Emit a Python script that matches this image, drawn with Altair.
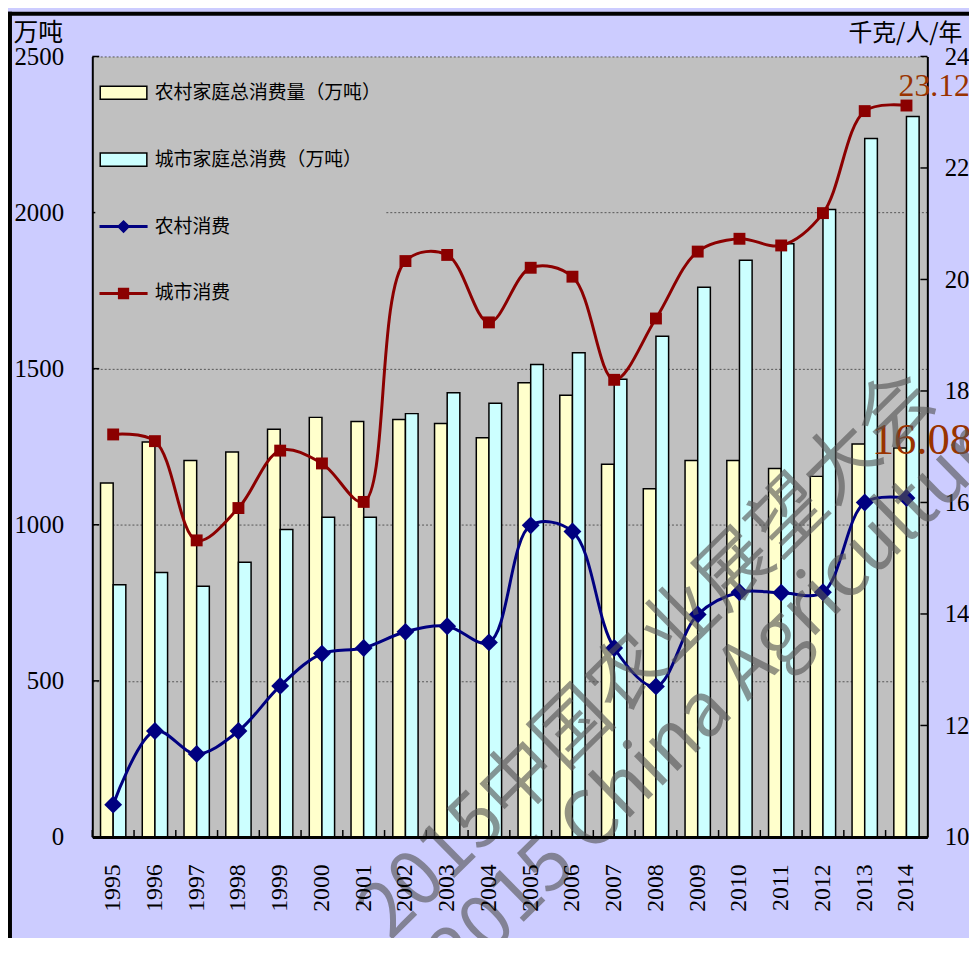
import altair as alt
import pandas as pd

# ---------------- data ----------------
years = [str(y) for y in range(1995, 2015)]
rural_total = [1134, 1265, 1206, 1233, 1306, 1344, 1331, 1337, 1324, 1279,
               1455, 1415, 1194, 1115, 1206, 1206, 1180, 1155, 1259, 1246]
urban_total = [808, 847, 803, 880, 985, 1024, 1024, 1356, 1423, 1389,
               1513, 1551, 1466, 1604, 1761, 1847, 1900, 2010, 2237, 2308]
rural_pc = [10.58, 11.90, 11.49, 11.90, 12.71, 13.29, 13.39, 13.68, 13.78, 13.49,
            15.59, 15.48, 13.39, 12.70, 13.99, 14.39, 14.38, 14.39, 16.00, 16.08]
urban_pc = [17.22, 17.10, 15.32, 15.90, 16.93, 16.70, 16.01, 20.33, 20.44, 19.23,
            20.21, 20.05, 18.20, 19.30, 20.50, 20.73, 20.61, 21.19, 23.02, 23.12]

bar_series = ["农村家庭总消费量（万吨）", "城市家庭总消费（万吨）"]
line_series = ["农村消费", "城市消费"]
left_ticks = [0, 500, 1000, 1500, 2000, 2500]
right_ticks = [10, 12, 14, 16, 18, 20, 22, 24]
end_labels = ["16.08", "23.12"]
watermark = ["2015中国农业展望大会", "2015 China Agricultural Outlook Conference"]

# ---------------- styles ----------------
YELLOW, CYAN, NAVY, DARKRED = "#FFFFCC", "#CCFFFF", "#000080", "#8B0000"
LABEL_COLOR = "#993300"
SERIF = "Liberation Serif"
CJK = "Noto Sans CJK SC"
RECT = "M-1,-0.28H1V0.28H-1Z"
LINE_DIAMOND = "M-1,-0.03H1V0.03H-1Z M0,-0.24L0.24,0L0,0.24L-0.24,0Z"
LINE_SQUARE = "M-1,-0.03H1V0.03H-1Z M-0.21,-0.21H0.21V0.21H-0.21Z"

bars_df = pd.DataFrame({
    "year": years * 2,
    "series": [bar_series[0]] * len(years) + [bar_series[1]] * len(years),
    "value": rural_total + urban_total,
})
rural_df = pd.DataFrame({"year": years, "value": rural_pc})
urban_df = pd.DataFrame({"year": years, "value": urban_pc})
lt_df = pd.DataFrame({"v": left_ticks})
rt_df = pd.DataFrame({"v": right_ticks})
yr_df = pd.DataFrame({"year": years})
legend_labels = bar_series + line_series
legend_df = pd.DataFrame({"label": legend_labels})
one = pd.DataFrame({"k": [0]})

xscale = alt.Scale(paddingInner=0, paddingOuter=0)
x_axis = alt.Axis(
    title=None, labelAngle=270, labelAlign="right", labelBaseline="middle",
    labelPadding=27, ticks=False, domainColor="black", domainWidth=3, zindex=1,
    labelFont=SERIF, labelFontSize=24, labelColor="black")
X = alt.X("year:O", scale=xscale, axis=x_axis)

lscale = alt.Scale(domain=[0, 2500], nice=False, zero=True)
rscale = alt.Scale(domain=[10, 24], nice=False, zero=False)

# ---------------- left (bars) ----------------
bars = alt.Chart(bars_df).mark_bar(stroke="black", strokeWidth=1.5).encode(
    x=X,
    xOffset=alt.XOffset("series:N", scale=alt.Scale(domain=bar_series, paddingOuter=0.65, paddingInner=0)),
    y=alt.Y("value:Q", scale=lscale, axis=alt.Axis(
        orient="left", values=left_ticks, format="d", grid=True, gridDash=[2, 2],
        gridColor="#555555", gridWidth=1, ticks=False, domainColor="black", domainWidth=2,
        labelFont=SERIF, labelFontSize=25, labelColor="black", labelPadding=29,
        title="万吨", titleAngle=0, titleX=-80, titleY=-24, titleAlign="left",
        titleBaseline="middle", titleFont=CJK, titleFontSize=25,
        titleFontWeight="normal", titleColor="black")),
    fill=alt.Fill("series:N", scale=alt.Scale(domain=bar_series, range=[YELLOW, CYAN]), legend=None),
)
lticks = alt.Chart(lt_df).mark_rule(color="black", strokeWidth=1.5).encode(
    y=alt.Y("v:Q", scale=lscale, axis=None), x=alt.value(0), x2=alt.value(7))

# ---------------- right (lines) ----------------
Yr_axis = alt.Y("value:Q", scale=rscale, axis=alt.Axis(
    orient="right", values=right_ticks, format="d", grid=False, ticks=False,
    domainColor="black", domainWidth=2, labelFont=SERIF, labelFontSize=25,
    labelColor="black", labelPadding=17,
    title="千克/人/年", titleAngle=0, titleX=-80, titleY=-23, titleAlign="left",
    titleBaseline="middle", titleFont=CJK, titleFontSize=24,
    titleFontWeight="normal", titleColor="black"))
Yr = alt.Y("value:Q", scale=rscale, axis=None)

rural_line = alt.Chart(rural_df).mark_line(interpolate="catmull-rom", strokeWidth=3, color=NAVY).encode(x=X, y=Yr_axis)
rural_pts = alt.Chart(rural_df).mark_point(shape="diamond", filled=True, size=324, color=NAVY, opacity=1).encode(x=X, y=Yr)
urban_line = alt.Chart(urban_df).mark_line(interpolate="catmull-rom", strokeWidth=3, color=DARKRED).encode(x=X, y=Yr)
urban_pts = alt.Chart(urban_df).mark_point(shape="square", filled=True, size=144, color=DARKRED, opacity=1).encode(x=X, y=Yr)
rticks = alt.Chart(rt_df).mark_rule(color="black", strokeWidth=1.5).encode(
    y=alt.Y("v:Q", scale=rscale, axis=None), x=alt.value(835), x2=alt.value(842))

lab_rural = alt.Chart(rural_df.tail(1).assign(t=end_labels[0])).mark_text(
    font=SERIF, fontSize=45, color=LABEL_COLOR, align="left", baseline="alphabetic", dx=-35, dy=-44
).encode(x=X, y=Yr, text="t:N")
lab_urban = alt.Chart(urban_df.tail(1).assign(t=end_labels[1])).mark_text(
    font=SERIF, fontSize=32, color=LABEL_COLOR, align="left", baseline="alphabetic", dx=-8, dy=-9.5
).encode(x=X, y=Yr, text="t:N")

# ---------------- extras ----------------
bticks = alt.Chart(yr_df).mark_rule(color="black", strokeWidth=1.5).encode(
    x=alt.X("year:O", scale=xscale, axis=x_axis, bandPosition=0), y=alt.value(787), y2=alt.value(780))

leg = alt.Legend(title=None, orient="none", legendX=3, legendY=8, padding=4,
                 fillColor="#C0C0C0", symbolSize=2209, symbolStrokeWidth=1.5,
                 rowPadding=32.5, labelFont=CJK, labelFontSize=19, labelColor="black",
                 labelOffset=7, labelLimit=400)
legend_layer = alt.Chart(legend_df).mark_point(filled=True, clip=True, opacity=1, strokeWidth=1.5).encode(
    x=alt.value(-500), y=alt.value(-500),
    color=alt.Color("label:N", scale=alt.Scale(domain=legend_labels, range=[YELLOW, CYAN, NAVY, DARKRED]), legend=leg),
    stroke=alt.Stroke("label:N", scale=alt.Scale(domain=legend_labels, range=["black", "black", NAVY, DARKRED]), legend=leg),
    shape=alt.Shape("label:N", scale=alt.Scale(domain=legend_labels, range=[RECT, RECT, LINE_DIAMOND, LINE_SQUARE]), legend=leg),
)

wm_style = dict(font=CJK, fontSize=76, angle=315.5, align="left", baseline="middle",
                fill="#555555", opacity=0.62)
wm1 = alt.Chart(pd.DataFrame({"t": [watermark[0]]})).mark_text(**wm_style).encode(
    x=alt.value(284), y=alt.value(876), text="t:N")
wm2 = alt.Chart(pd.DataFrame({"t": [watermark[1]]})).mark_text(**wm_style).encode(
    x=alt.value(354), y=alt.value(920), text="t:N")

border_v = alt.Chart(one).mark_rule(color="black", strokeWidth=4).encode(
    x=alt.value(-83), y=alt.value(-45), y2=alt.value(900))
border_h = alt.Chart(one).mark_rule(color="black", strokeWidth=4).encode(
    y=alt.value(-43), x=alt.value(-85), x2=alt.value(900))

chart = alt.layer(
    bars, lticks, rural_line, rural_pts, urban_line, urban_pts, rticks,
    lab_rural, lab_urban, bticks, legend_layer, wm1, wm2, border_v, border_h
).resolve_scale(
    y="independent"
).properties(
    width=842, height=787, background="#CCCCFF",
    padding={"left": 85, "top": 45, "right": 42, "bottom": 98},
    autosize=alt.AutoSizeParams(type="none"),
).configure_view(fill="#C0C0C0", stroke="transparent")

chart.save("out.html", embed_options={"renderer": "svg", "actions": False})
